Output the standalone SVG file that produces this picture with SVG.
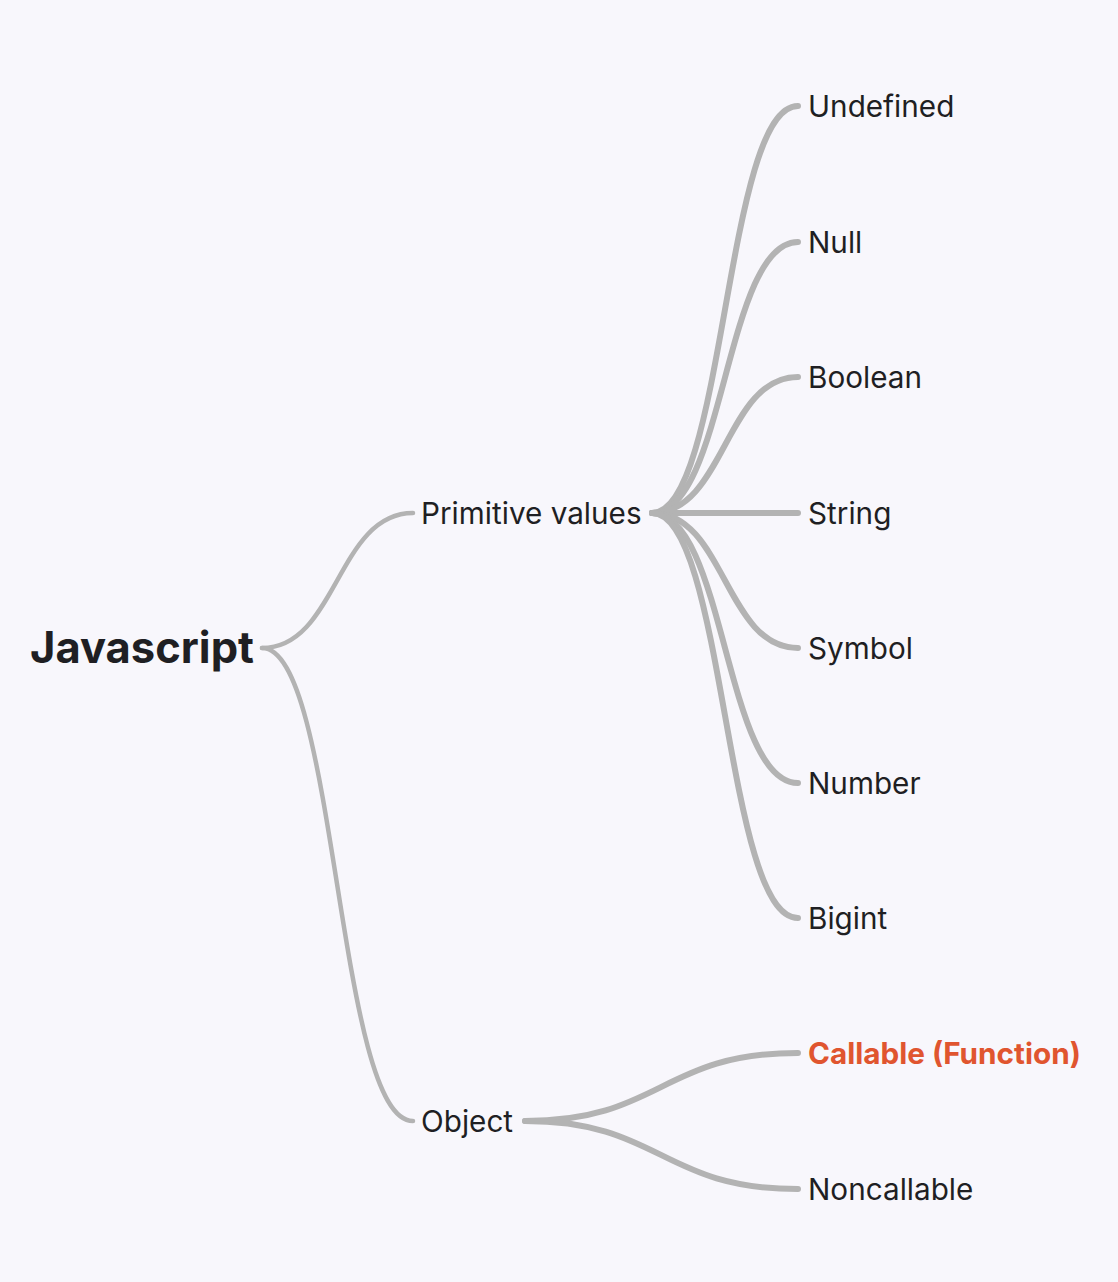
<svg xmlns="http://www.w3.org/2000/svg" width="1118" height="1282" viewBox="0 0 1118 1282">
<style>
.bg{fill:#f8f7fc}
.c1{fill:none;stroke:#b3b3b3;stroke-width:4.5;stroke-linecap:round}
.c2{fill:none;stroke:#b3b3b3;stroke-width:6;stroke-linecap:round}
text{font-family:Inter,"Liberation Sans",sans-serif;fill:#1f1f23}
.root{font-size:43.5px;font-weight:700}
.lbl{font-size:29.7px}
.hl{fill:#e0552f;font-weight:700}
</style>
<rect class="bg" x="0" y="0" width="1118" height="1282"/>
<g id="connectors">
<path class="c1" d="M262,648 C337,648 337,513 413,513"/>
<path class="c1" d="M262,648 C337,648 337,1121 413,1121"/>
<path class="c2" d="M652,513 C725,513 725,106 798,106"/>
<path class="c2" d="M652,513 C725,513 725,242 798,242"/>
<path class="c2" d="M652,513 C725,513 725,377 798,377"/>
<path class="c2" d="M652,513 L798,513"/>
<path class="c2" d="M652,513 C725,513 725,648 798,648"/>
<path class="c2" d="M652,513 C725,513 725,783 798,783"/>
<path class="c2" d="M652,513 C725,513 725,918 798,918"/>
<path class="c2" d="M525,1121 C661,1121 661,1053 798,1053"/>
<path class="c2" d="M525,1121 C661,1121 661,1189 798,1189"/>
</g>
<g id="n-javascript"><text class="root" x="30" y="663">Javascript</text></g>
<g id="n-primitive"><text class="lbl" x="421" y="524">Primitive values</text></g>
<g id="n-object"><text class="lbl" x="421" y="1132">Object</text></g>
<g id="n-undefined"><text class="lbl" x="808" y="117">Undefined</text></g>
<g id="n-null"><text class="lbl" x="808" y="253">Null</text></g>
<g id="n-boolean"><text class="lbl" x="808" y="388">Boolean</text></g>
<g id="n-string"><text class="lbl" x="808" y="524">String</text></g>
<g id="n-symbol"><text class="lbl" x="808" y="659">Symbol</text></g>
<g id="n-number"><text class="lbl" x="808" y="794">Number</text></g>
<g id="n-bigint"><text class="lbl" x="808" y="929">Bigint</text></g>
<g id="n-callable"><text class="lbl hl" x="808" y="1064">Callable (Function)</text></g>
<g id="n-noncallable"><text class="lbl" x="808" y="1200">Noncallable</text></g>
</svg>
